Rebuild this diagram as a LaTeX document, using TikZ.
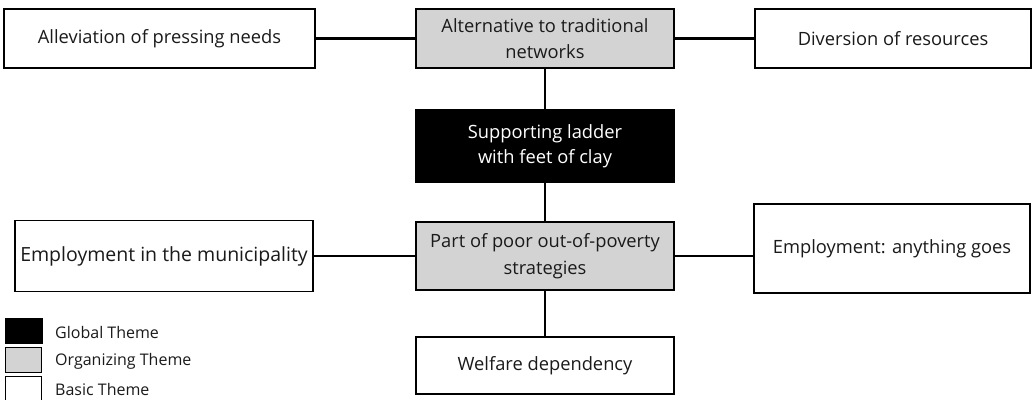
\documentclass[tikz,border=0pt]{standalone}
\usepackage{fontspec}
\setmainfont{Open Sans}
\definecolor{orggray}{HTML}{D3D3D3}
\definecolor{txt}{HTML}{1A1A1A}
\tikzset{
  box/.style={draw=black, line width=1.1pt, rectangle, align=center, inner sep=0pt,
    text=txt, font=\fontsize{18.3}{26.5}\selectfont},
  basic/.style={box, fill=white},
  organizing/.style={box, fill=orggray},
  global/.style={box, fill=black, text=white},
  link/.style={line width=2.2pt},
  legtext/.style={anchor=west, inner sep=0pt, text=txt, font=\fontsize{16}{19}\selectfont},
  legsq/.style={draw=black, line width=0.9pt}
}
\begin{document}
\begin{tikzpicture}[x=1pt,y=-1pt]
\useasboundingbox (0,0) rectangle (1032,399);
\clip (0,0) rectangle (1032,399);
% nodes
\node[basic, minimum width=311pt, minimum height=59pt] (A) at (159.5,38.5) {Alleviation of pressing needs};
\node[organizing, minimum width=258pt, minimum height=59pt] (T) at (545,38.5) {Alternative to traditional\\networks};
\node[basic, minimum width=276pt, minimum height=59pt] (D) at (893,38.5) {Diversion of resources};
\node[global, minimum width=258pt, minimum height=72pt, font=\fontsize{18.3}{25}\selectfont] (G) at (545,146) {Supporting ladder\\with feet of clay};
\node[organizing, minimum width=258pt, minimum height=68pt] (P) at (545,256) {Part of poor out-of-poverty\\strategies};
\node[basic, minimum width=298pt, minimum height=71pt, font=\fontsize{19.5}{24}\selectfont] (E1) at (164,256) {Employment in the municipality};
\node[basic, minimum width=276pt, minimum height=89pt] (E2) at (892,248.5) {Employment: anything goes};
\node[basic, minimum width=258pt, minimum height=57pt] (W) at (545,365.5) {Welfare dependency};
% connectors
\draw[link] (A.east) -- (T.west);
\draw[link] (T.east) -- (D.west);
\draw[link] (T.south) -- (G.north);
\draw[link] (G.south) -- (P.north);
\draw[link] (E1.east) -- (P.west);
\draw[link] (P.east) -- (E2.west |- P.east);
\draw[link] (P.south) -- (W.north);
% legend
\draw[legsq, fill=black] (5,318) rectangle (42,343);
\draw[legsq, fill=orggray] (5,347) rectangle (41,372);
\draw[legsq, fill=white] (5,376) rectangle (41,410);
\node[legtext] (L1) at (55,332) {Global Theme};
\node[legtext] (L2) at (55,361) {Organizing Theme};
\node[legtext] (L3) at (55,389) {Basic Theme};
\end{tikzpicture}
\end{document}
